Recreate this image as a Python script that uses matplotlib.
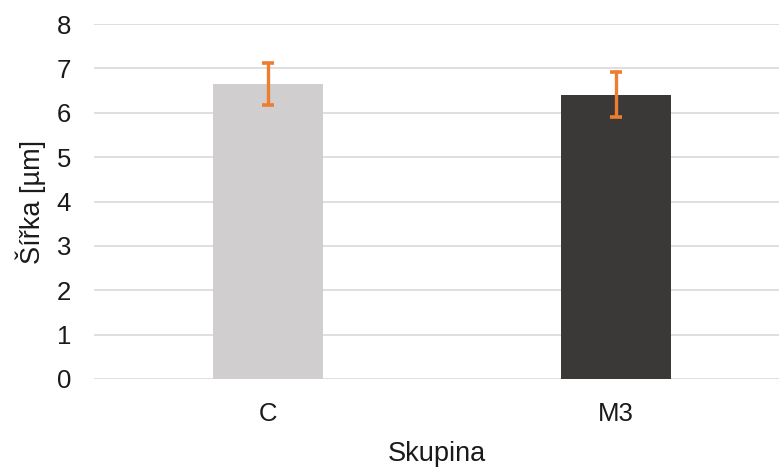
import matplotlib
matplotlib.use("Agg")
import matplotlib.pyplot as plt

# Values
groups = ["C", "M3"]
widths = [6.64, 6.41]
errors = [0.47, 0.50]
bar_colors = ["#D0CECE", "#3B3838"]

plt.rcParams["font.family"] = ["Liberation Sans", "DejaVu Sans"]

fig = plt.figure(figsize=(7.79, 4.68), dpi=100)
ax = fig.add_axes([94 / 779, 89 / 468, 685 / 779, 355 / 468])

x = range(len(groups))
ax.bar(x, widths, width=0.316, color=bar_colors, zorder=2)
ax.errorbar(x, widths, yerr=errors, fmt="none", ecolor="#ED7D31",
            elinewidth=2.4, capsize=4, capthick=2.6, zorder=3)

ax.set_xlim(-0.5, 1.468)
ax.set_ylim(0, 8)
ax.set_yticks(range(0, 9))
ax.set_xticks(list(x))
ax.set_xticklabels(groups)
ax.yaxis.grid(True, color="#D9D9D9", linewidth=1.2, zorder=0)
ax.set_axisbelow(True)
for side in ["top", "right", "left", "bottom"]:
    ax.spines[side].set_visible(False)
ax.tick_params(axis="both", length=0, labelsize=18.5, colors="#1a1a1a")
ax.tick_params(axis="y", pad=16.5)
ax.tick_params(axis="x", pad=16.5)

ax.set_ylabel("Šířka [µm]", fontsize=19.5, color="#1a1a1a", labelpad=8)
ax.set_xlabel("Skupina", fontsize=19.5, color="#1a1a1a", labelpad=11)

fig.savefig("out.png", dpi=100)
